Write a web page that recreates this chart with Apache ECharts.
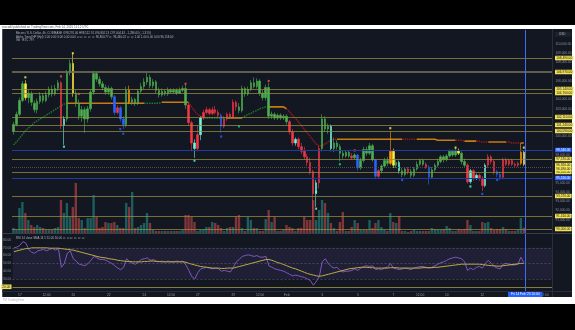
<!DOCTYPE html>
<html><head><meta charset="utf-8">
<script src="https://cdn.jsdelivr.net/npm/echarts@6/dist/echarts.min.js"></script>
<style>
html,body{margin:0;padding:0;background:#000;width:575px;height:330px;overflow:hidden;}
#card{position:absolute;left:0;top:25px;width:575px;height:279px;background:#fff;}
#panel{position:absolute;left:2px;top:29px;width:570px;height:268px;background:#131722;box-shadow:inset 1px 0 0 #4a4e59;}
#c{position:absolute;left:0;top:0;width:575px;height:330px;}
</style></head>
<body><div id="card"></div><div id="panel"></div><div id="c"></div>
<script>
// ---- time slots (4h bars) ----
const START_UTC = Date.UTC(2025, 0, 16, 16);
const BAR_HOURS = 4;
const N_SLOTS = 182;            // 173 bars + empty right margin
const CURSOR_POS = 173;         // Fri 14 Feb '25 10:00 (between bars)
const TICK_TIMES = ['2025-01-17T00:00','2025-01-18T12:00','2025-01-20T00:00','2025-01-22T00:00','2025-01-24T00:00','2025-01-25T12:00','2025-01-27T00:00','2025-01-29T00:00','2025-01-30T12:00','2025-02-01T00:00','2025-02-03T00:00','2025-02-05T00:00','2025-02-07T00:00','2025-02-08T12:00','2025-02-10T00:00','2025-02-12T00:00','2025-02-15T12:00'];
const TICK_TEXT = ['17','12:00','20','22','24','12:00','27','29','12:00','Feb','3','5','7','12:00','10','12','12:00'];

// ---- candles [open, close, low, high] in thousand USD ----
const CANDLES = [
[100.6,101.3,100.2,101.6],[101.3,102.4,101.1,102.7],
[102.4,103.9,102.2,104.2],[103.9,105.7,103.7,106.0],[105.7,104.2,103.9,106.1],[104.2,104.7,103.6,105.0],[104.6,103.7,103.3,104.9],[103.6,102.9,102.6,103.9],
[102.9,103.8,102.5,104.1],[103.8,104.4,103.5,104.8],[104.4,103.9,103.6,104.7],[103.9,104.5,103.7,104.9],[104.5,105.1,104.2,105.4],[105.1,104.6,104.3,105.5],
[104.6,105.2,104.4,105.6],[105.2,105.8,104.9,106.1],[105.8,101.2,100.8,106.0],[101.2,101.9,99.1,102.2],[101.9,106.9,101.6,107.2],[106.9,107.9,106.6,108.3],
[107.9,104.7,104.3,109.0],[104.7,103.6,103.2,105.0],[103.6,102.2,101.8,104.0],[102.2,102.9,101.6,103.3],[102.9,101.9,100.4,103.2],[101.9,103.0,101.5,103.3],
[103.0,104.8,102.7,105.1],[104.8,106.8,104.5,107.1],[106.8,106.2,105.9,107.0],[106.2,105.7,105.4,106.5],[105.7,105.3,105.0,106.0],[105.3,104.8,104.5,105.6],
[104.8,105.2,104.5,105.5],[105.2,104.3,104.0,105.4],[104.3,102.6,102.3,104.5],[102.6,103.1,102.4,103.4],[103.1,101.9,101.6,103.3],[101.9,101.3,100.8,102.2],
[101.3,105.0,101.0,105.4],[105.0,103.7,103.5,105.5],[103.7,104.0,103.4,104.3],[104.0,103.6,103.3,104.2],[103.6,104.9,103.4,105.1],[104.9,105.4,104.7,105.8],
[105.4,105.9,105.1,106.3],[105.9,106.4,105.6,106.9],[106.4,105.5,105.2,106.7],[105.5,105.9,105.2,106.2],[105.9,105.0,104.7,106.1],[105.0,104.5,104.2,105.3],
[104.5,104.9,104.3,105.2],[104.9,104.6,104.4,105.1],[104.6,105.0,104.4,105.3],[105.0,104.8,104.6,105.2],[104.8,105.0,104.6,105.2],[105.0,104.7,104.5,105.2],
[104.7,105.0,104.6,105.3],[105.0,105.2,104.8,105.5],[105.2,103.4,103.0,105.6],[103.4,101.5,101.2,103.7],[101.5,99.3,98.4,101.7],[99.3,98.7,97.7,99.7],
[98.7,100.2,98.4,101.2],[100.2,102.0,99.6,102.2],[102.0,102.6,101.8,102.9],[102.6,102.9,102.4,103.2],[102.9,102.5,102.3,103.1],[102.5,102.9,102.3,103.2],
[102.9,102.6,102.4,103.3],[102.6,102.3,102.0,102.9],[102.3,101.1,100.4,102.5],[101.1,101.9,100.9,102.2],[101.9,102.4,101.7,102.6],[102.4,102.1,101.9,102.6],
[102.1,103.7,101.9,104.0],[103.7,103.2,102.8,103.9],[103.2,102.8,102.5,103.6],[102.8,105.2,102.6,105.5],[105.2,104.6,104.3,105.4],[104.6,105.1,104.4,105.4],
[105.1,105.8,104.9,106.1],[105.8,105.4,105.2,106.4],[105.4,106.0,105.2,106.3],[106.0,104.7,104.4,106.2],[104.7,104.2,103.9,105.0],[104.2,105.3,103.9,105.6],
[105.3,102.2,101.9,105.8],[102.2,102.4,101.9,102.7],[102.4,102.0,101.8,102.6],[102.0,102.3,101.8,102.5],[102.3,102.0,101.8,102.5],[102.0,102.2,101.8,102.4],
[102.2,101.6,101.3,102.4],[101.6,100.5,100.2,101.8],[100.5,99.3,99.0,100.8],[99.3,99.7,99.0,99.9],[99.7,98.9,98.6,99.9],[98.9,98.4,98.1,99.3],
[98.4,97.8,97.5,98.9],[97.8,97.2,96.8,98.1],[97.2,96.2,95.9,97.7],[96.2,93.8,91.2,96.4],[93.8,95.0,92.4,95.3],[95.0,98.7,94.4,99.0],
[98.7,101.9,98.4,102.4],[101.9,100.8,100.5,102.2],[100.8,101.1,100.3,101.4],[101.1,98.7,98.4,101.3],[98.7,99.3,98.3,99.9],[99.3,98.9,98.6,99.6],
[98.9,98.2,97.3,99.2],[98.2,97.9,97.6,98.5],[97.9,98.3,97.7,98.5],[98.3,97.9,97.7,98.5],[97.9,97.7,97.5,98.2],[97.7,98.0,97.5,98.2],
[98.0,96.6,96.3,98.1],[96.6,97.4,96.4,97.7],[97.4,98.6,97.2,98.9],[98.6,98.2,97.9,98.9],[98.2,99.0,98.0,99.3],[99.0,97.5,97.3,99.2],
[97.5,95.7,95.4,97.6],[95.7,96.3,95.5,96.5],[96.3,96.8,96.0,97.0],[96.8,97.4,96.6,97.7],[97.4,97.1,96.8,97.8],[97.1,98.4,96.9,100.6],
[98.4,96.9,96.6,98.7],[96.9,97.2,96.6,97.5],[97.2,96.3,96.0,97.4],[96.3,95.9,95.6,96.6],[95.9,96.5,95.7,96.7],[96.5,96.2,95.9,96.7],
[96.2,95.8,95.5,96.5],[95.8,96.5,95.6,96.7],[96.5,97.0,96.3,97.3],[97.0,97.4,96.8,97.6],[97.4,97.0,96.8,97.6],[97.0,96.7,96.5,97.2],
[96.7,95.6,94.8,96.9],[95.6,96.4,95.4,96.7],[96.4,96.9,96.2,97.1],[96.9,97.3,96.7,97.6],[97.3,97.8,97.1,98.0],[97.8,97.5,97.2,98.0],
[97.5,97.9,97.3,98.1],[97.9,98.4,97.7,98.6],[98.4,98.0,97.8,98.6],[98.0,98.5,97.8,98.8],[98.5,98.2,98.0,98.7],[98.2,97.3,97.0,98.4],
[97.3,96.9,96.6,97.6],[96.9,95.1,94.9,97.1],[95.1,96.3,94.9,96.5],[96.3,95.5,95.2,96.5],[95.5,95.8,95.3,96.0],[95.8,95.5,95.2,96.0],
[95.5,94.7,94.1,95.7],[94.7,96.9,94.5,97.1],[96.9,97.8,96.6,98.1],[97.8,97.3,97.0,98.0],[97.3,96.2,95.9,97.5],[96.2,95.9,95.6,96.4],
[95.9,95.6,95.3,96.2],[95.6,97.5,95.4,97.7],[97.5,97.0,96.8,97.7],[97.0,97.4,96.8,97.6],[97.4,97.0,96.8,97.6],[97.0,96.9,96.7,97.2],
[96.9,97.1,96.7,97.3],[97.1,98.3,96.9,99.3],[98.3,97.0,96.8,98.5]
];
// candle colour runs (trend colouring): g green, r red, y yellow, b blue, c cyan, o orange
const CANDLE_COLOR_RUNS = [['g',4],['y',1],['g',11],['r',1],['c',1],['g',2],['y',1],['g',13],['b',1],['r',1],['b',2],['g',1],['o',1],['g',19],['r',2],['c',1],['r',1],['c',1],['r',6],['b',1],['r',5],['g',17],['r',2],['c',1],['r',6],['c',1],['r',1],['g',3],['c',1],['g',6],['r',1],['g',1],['b',1],['g',5],['b',1],['r',1],['g',3],['o',1],['y',1],['g',1],['c',1],['g',2],['r',1],['g',5],['r',1],['b',1],['g',9],['y',1],['g',2],['r',1],['c',1],['r',1],['c',1],['r',2],['c',1],['r',3],['b',2],['r',6],['o',1],['y',1]];

// ---- volume (BTC) ----
const VOLUME = [
750,450,
3750,4650,3000,1950,1200,900,
1200,900,750,450,450,450,
750,900,4950,3000,4500,2400,
3900,7500,2250,1950,750,2250,
2250,5700,2400,750,900,1650,
1500,1500,1650,1200,750,750,
4500,3900,6150,750,900,1200,
1500,3000,1500,450,300,300,
300,300,300,300,300,300,
300,450,2700,2700,2400,1650,
300,450,450,900,900,1650,
1500,1200,750,300,750,900,
900,2400,2700,750,300,2400,
1950,750,750,300,300,2100,
3450,1650,2400,300,300,450,
1200,900,750,300,750,750,
2400,1950,1950,4950,1950,3450,
4950,4500,3000,1500,750,300,
1650,3150,300,300,900,1950,
1500,450,450,450,1950,750,
1500,1950,900,450,300,3000,
1650,1500,2550,300,300,150,
300,450,300,300,300,300,
300,750,600,450,450,600,
1050,750,300,300,600,450,
600,1950,1200,300,300,300,
1650,1500,1650,750,450,600,
600,900,600,300,300,300,
450,2250,797
];

// ---- Alpha Trend line (thousand USD) and its colour runs ----
const ALPHA = [
99.1,99.4,
99.8,100.2,100.6,100.9,101.2,101.5,
101.7,101.9,102.1,102.3,102.5,102.7,
102.9,103.1,103.3,103.5,103.6,103.6,
103.6,103.6,103.6,103.6,103.6,103.6,
103.6,103.6,103.6,103.6,103.6,103.6,
103.6,103.6,103.6,103.6,103.6,103.6,
103.6,103.6,103.6,103.6,103.6,103.6,
103.6,103.6,103.6,103.6,103.6,103.6,
103.7,103.7,103.7,103.7,103.7,103.7,
103.7,103.7,103.7,103.7,103.2,102.8,
102.4,102.2,102.0,102.0,102.0,102.0,
102.0,102.0,102.0,102.0,102.0,102.0,
102.0,102.0,102.0,102.0,102.2,102.4,
102.5,102.7,102.8,103.0,103.1,103.2,
103.2,103.2,103.2,103.2,103.2,103.2,
103.0,102.7,102.3,102.0,101.6,101.2,
100.8,100.4,100.0,99.6,99.2,99.0,
99.0,99.2,99.4,99.6,99.7,99.7,
99.7,99.7,99.7,99.7,99.7,99.7,
99.7,99.7,99.7,99.7,99.7,99.7,
99.7,99.7,99.7,99.7,99.7,99.7,
99.7,99.7,99.7,99.7,99.7,99.7,
99.7,99.7,99.7,99.7,99.7,99.7,
99.7,99.7,99.7,99.6,99.6,99.6,
99.6,99.6,99.6,99.6,99.6,99.6,
99.5,99.5,99.5,99.5,99.5,99.5,
99.4,99.4,99.4,99.4,99.4,99.4,
99.4,99.4,99.4,99.4,99.3,99.3,
99.3,99.3,99.3
];
const ALPHA_COLOR_RUNS = [['g',18],['o',26],['g',6],['o',9],['r',6],['g',7],['o',5],['g',9],['o',6],['r',17],['o',22],['r',5],['o',13],['r',3],['o',4],['r',4],['o',6],['r',5],['o',2]];

// ---- signal markers [bar index, price k, colour] ----
const MARKERS = [[4,106.4,'y'],[16,106.5,'r'],[17,98.9,'c'],[20,109.0,'y'],[22,104.6,'r'],[36,100.8,'b'],[37,100.3,'b'],[58,105.7,'r'],[61,97.4,'c'],[70,100.0,'b'],[76,101.1,'g'],[86,106.0,'r'],[102,94.0,'c'],[102,92.2,'c'],[110,97.0,'g'],[115,98.5,'r'],[127,100.9,'y'],[131,95.3,'b'],[149,98.8,'y'],[154,94.6,'c'],[158,93.8,'b'],[163,95.3,'b'],[172,98.8,'y']];

// ---- RSI(14) and its SMA ----
const RSI = [
70,71,
73,78,76,68,64,63,
66,67,68,66,68,69,
67,69,45,50,63,66,
56,53,49,48,47,50,
54,59,57,55,55,54,
52,50,47,44,42,45,
56,52,50,49,52,55,
56,57,54,55,53,52,
53,52,53,52,52,53,
52,53,48,41,33,30,
38,43,44,45,44,43,
44,43,40,41,40,39,
45,52,55,59,60,61,
60,59,60,58,58,59,
47,45,43,42,41,40,
38,36,34,35,34,33,
32,30,28,22,27,33,
52,56,50,46,44,45,
41,39,40,40,41,43,
41,44,46,47,46,47,
42,43,42,44,45,50,
44,43,42,43,44,43,
42,44,45,46,46,45,
44,45,47,49,51,52,
54,56,57,58,57,56,
52,41,44,42,45,46,
44,50,54,50,46,44,
43,49,50,49,48,48,
49,58,51
];
const RSI_MA = [
65,66,
67,68,69,69,70,70,
70,70,70,70,69.5,69.5,
69.5,69.5,69,68.5,68,67.5,
67,66,65,64,63,62,
61,60,59,58,57.5,57,
56,55.5,55,54,53.5,53,
52.5,52.5,52,52,52,52,
52.5,52.5,53,53,52.5,52.5,
52,52,52,52,52,52,
52,52,51.5,50,49,48,
47,46,45.5,45,44.5,44,
44,44,43.5,43.5,44,44,
44,45,46,47,48,49,
50,51,52,53,54,55,
55,54,52.5,51,50,48.5,
47,45.5,44,43,41.5,40,
38.5,37,36,35,34,33.5,
34,35,36,37,38,39,
40,41,42,43,43.5,44,
44.5,45,45,45,44.5,44.5,
44,44,44,44,44,44.5,
44.5,44.5,44,44,44,44,
44,44,44,44,44.5,44.5,
44.5,44.5,45,45,45.5,46,
46.5,47,47.5,48,48.5,49,
49,49,49,49,49,49,
48.5,48,47.5,47,47,46.5,
46.5,47,47.5,48,48.5,49,
49.5,50,50
];

// ---- price levels (thousand USD) ----
const LEVELS_YELLOW = [108.49,106.97,105.14,104.70,102.11,101.24,100.59,97.57,96.16,93.57,91.41,90.00];
const LEVELS_BLUE = [98.54,95.51];
const LEVEL_DOTTED = [96.70];
const TAGS_ONLY = [96.92,96.49];
const PRICE_TICKS = [110,109,108,106,104,103,100,98,95,94,93,92,91];
const RSI_TICKS = [30,40,50,60,70,80];
const RSI_BANDS = [70,50,30];
const RSI_LINE = 20;

// ================= build =================
const FONT = 'Liberation Sans';
const PAL = {g:'#4caf50', r:'#f23645', y:'#ffeb3b', b:'#2962ff', c:'#6ff5dc', o:'#ff9800'};
const MK = {g:'#00e676', r:'#ff5252', y:'#ffee58', b:'#2962ff', c:'#64ffda'};
const expand = runs => { const o=[]; runs.forEach(([c,n])=>{for(let k=0;k<n;k++)o.push(c);}); return o; };
const cc = expand(CANDLE_COLOR_RUNS);
const ac = expand(ALPHA_COLOR_RUNS);
const fmtK = v => (v*1000).toLocaleString('en-US',{minimumFractionDigits:2,maximumFractionDigits:2});

const cats = [];
for (let k=0;k<N_SLOTS;k++) cats.push(new Date(START_UTC + k*BAR_HOURS*3600e3).toISOString().slice(0,16));
const tickMap = {}; TICK_TIMES.forEach((t,k)=>tickMap[t]=TICK_TEXT[k]);

const candleData = CANDLES.map((d,i)=>{const col=PAL[cc[i]];return {value:d,itemStyle:{color:col,color0:col,borderColor:col,borderColor0:col}};});
const volData = VOLUME.map((v,i)=>({value:v,itemStyle:{color:CANDLES[i][1]>=CANDLES[i][0]?'rgba(38,166,154,0.5)':'rgba(239,83,80,0.5)'}}));
const alphaFor = code => ALPHA.map((v,i)=>(ac[i]===code || (i>0 && ac[i-1]===code)) ? v : null);

const tag = (bg, fg) => ({show:true, position:'end', distance:3, formatter:p=>fmtK(p.value), backgroundColor:bg, color:fg, fontSize:3.2, fontFamily:FONT, padding:[0.8,1.2], borderRadius:0.5});
const levelLines = [];
LEVELS_YELLOW.forEach((v,k)=>levelLines.push({yAxis:v, lineStyle:k===1?{color:'rgba(110,108,80,0.85)',width:2,type:'solid'}:{color:'rgba(150,142,62,0.75)',width:1,type:'solid'}, label:tag('#f2e35a','#111')}));
LEVELS_BLUE.forEach(v=>levelLines.push({yAxis:v, lineStyle:{color:'#1f3d9e',width:1,type:'solid'}, label:tag('#2962ff','#fff')}));
LEVEL_DOTTED.forEach(v=>levelLines.push({yAxis:v, lineStyle:{color:'#4a4d57',width:1,type:'dotted'}, label:{show:false}}));
TAGS_ONLY.forEach(v=>levelLines.push({yAxis:v, lineStyle:{color:'transparent',width:0}, label:tag('#f2e35a','#111')}));

const rsiLines = RSI_BANDS.map(v=>({yAxis:v, lineStyle:{color:'rgba(120,123,134,0.45)',width:1,type:[2,2]}, label:{show:false}}));
rsiLines.push({yAxis:RSI_LINE, lineStyle:{color:'rgba(160,150,70,0.8)',width:1,type:'solid'}, label:{show:true,position:'start',distance:1,formatter:p=>p.value.toFixed(2),backgroundColor:'#f2e35a',color:'#111',fontSize:3.2,fontFamily:FONT,padding:[0.8,1.2]}});

const txt = (x,y,text,rich,size,fill) => ({type:'text', x, y, z:100, style:{text, x:0, y:0, fill:fill||'#b2b5be', fontSize:size||3, fontFamily:FONT, verticalAlign:'middle', rich:rich||{}}});
const rich = s => ({fontSize:s, fontFamily:FONT});
const R = s => ({w:{...rich(s),color:'#b2b5be'}, r:{...rich(s),color:'#f23645'}, y:{...rich(s),color:'#ffeb3b'}, o:{...rich(s),color:'#ff9800'}, b:{...rich(s),color:'#2962ff'}, c:{...rich(s),color:'#26c6da'}, g:{...rich(s),color:'#787b86'}, gr:{...rich(s),color:'#4caf50'}, p:{...rich(s),color:'#9575cd'}});

const chart = echarts.init(document.getElementById('c'), null, {renderer:'canvas'});
chart.setOption({
  animation:false,
  backgroundColor:'transparent',
  textStyle:{fontFamily:FONT},
  grid:[
    {left:12, right:23, top:30, height:203},
    {left:12, right:23, top:234, height:57},
    {left:12, right:23, top:30, height:261}
  ],
  xAxis:[
    {type:'category', gridIndex:0, data:cats, boundaryGap:true, show:false},
    {type:'category', gridIndex:1, data:cats, boundaryGap:true,
      axisLine:{show:false}, axisTick:{show:false}, splitLine:{show:false},
      axisLabel:{interval:(i,v)=>tickMap[v]!==undefined, formatter:v=>tickMap[v]||'', fontSize:3.3, color:'#9598a1', margin:2.2, fontFamily:FONT}},
    {type:'value', gridIndex:2, min:0, max:N_SLOTS, show:false}
  ],
  yAxis:[
    {type:'value', gridIndex:0, position:'right', min:89.57, max:111.514, splitLine:{show:false},
      axisLine:{show:false}, axisTick:{show:false},
      axisLabel:{customValues:PRICE_TICKS, formatter:v=>fmtK(v), fontSize:3.2, color:'#8f929b', margin:3.5, fontFamily:FONT}},
    {type:'value', gridIndex:0, min:0, max:30450, show:false},
    {type:'value', gridIndex:1, position:'left', min:14.6, max:87.7, splitLine:{show:false},
      axisLine:{show:false}, axisTick:{show:false},
      axisLabel:{customValues:RSI_TICKS, formatter:v=>v.toFixed(2), fontSize:3.2, color:'#8f929b', margin:1.5, fontFamily:FONT}},
    {type:'value', gridIndex:2, min:0, max:1, show:false}
  ],
  series:[
    {type:'bar', name:'vol', xAxisIndex:0, yAxisIndex:1, data:volData, barWidth:'80%', z:1, silent:true},
    {type:'line', name:'levels', xAxisIndex:0, yAxisIndex:0, data:CANDLES.map(d=>d[1]), showSymbol:false, symbol:'none', lineStyle:{opacity:0}, z:1, silent:true,
      markLine:{symbol:['none','none'], silent:true, animation:false, data:levelLines}},
    {type:'line', name:'atG', xAxisIndex:0, yAxisIndex:0, data:alphaFor('g'), showSymbol:false, symbol:'none', connectNulls:false, lineStyle:{color:'#1f7a2c',width:1.4,type:[1.5,1]}, z:2, silent:true},
    {type:'line', name:'atO', xAxisIndex:0, yAxisIndex:0, data:alphaFor('o'), showSymbol:false, symbol:'none', connectNulls:false, lineStyle:{color:'#c77a10',width:1.6}, z:2, silent:true},
    {type:'line', name:'atR', xAxisIndex:0, yAxisIndex:0, data:alphaFor('r'), showSymbol:false, symbol:'none', connectNulls:false, lineStyle:{color:'#8e1b1b',width:1.5,type:[1.5,0.8]}, z:2, silent:true},
    {type:'candlestick', xAxisIndex:0, yAxisIndex:0, data:candleData, barWidth:2, z:3, silent:true, itemStyle:{borderWidth:0.6}},
    {type:'scatter', xAxisIndex:0, yAxisIndex:0, data:MARKERS.map(([i,p,c])=>({value:[i,p],itemStyle:{color:MK[c]}})), symbol:'rect', symbolSize:[2,2.2], z:4, silent:true},
    {type:'line', name:'rsi', xAxisIndex:1, yAxisIndex:2, data:RSI, showSymbol:false, symbol:'none', lineStyle:{color:'#7e57c2',width:1}, z:3, silent:true,
      markArea:{silent:true, itemStyle:{color:'rgba(126,87,194,0.12)'}, data:[[{yAxis:30},{yAxis:70}]]},
      markLine:{symbol:['none','none'], silent:true, data:rsiLines}},
    {type:'line', name:'rsiMA', xAxisIndex:1, yAxisIndex:2, data:RSI_MA, showSymbol:false, symbol:'none', lineStyle:{color:'#bfae45',width:1}, z:3, silent:true},
    {type:'line', name:'cursor', xAxisIndex:2, yAxisIndex:3, data:[[0,0.5],[N_SLOTS,0.5]], showSymbol:false, symbol:'none', lineStyle:{opacity:0}, z:5, silent:true,
      markLine:{symbol:['none','none'], silent:true, data:[{xAxis:CURSOR_POS}], lineStyle:{color:'#3d6bff',width:1,type:'solid'},
        label:{show:true, position:'start', distance:1, formatter:"Fri 14 Feb '25 10:00", backgroundColor:'#2962ff', color:'#fff', fontSize:3.2, fontFamily:FONT, padding:[1,3]}}}
  ],
  graphic:[
    {type:'line', z:50, shape:{x1:2, y1:233.5, x2:572, y2:233.5}, style:{stroke:'#3a3e4a', lineWidth:1}},
    {type:'line', z:50, shape:{x1:2, y1:291.5, x2:572, y2:291.5}, style:{stroke:'#2a2e39', lineWidth:1}},
    {type:'line', z:50, shape:{x1:552.5, y1:29, x2:552.5, y2:297}, style:{stroke:'#2a2e39', lineWidth:1}},
    {type:'rect', z:60, shape:{x:555, y:32, width:16, height:4.6}, style:{fill:'#1e222d'}},
    txt(559, 34.4, 'USD', null, 3, '#b2b5be'),
    txt(2, 27.3, 'crocodil published on TradingView.com, Feb 14, 2025 11:12 UTC', null, 3, '#555'),
    txt(16, 33, '{w|Bitcoin / U.S. Dollar, 4h, COINBASE} {r|O98,291.06 H98,512.74 L96,802.13 C97,004.43 \u22121,286.63 (\u22121.31%)}', R(2.9)),
    txt(16, 36.8, '{w|Alpha Trend HP (Hpl)} {y|1.00} {o|0.00} {b|3.00} {c|0.00} {y|0.00} {g|\u2205 \u2205 \u2205 \u2205 \u2205} {w|96,800.77} {g|\u2205} {w|96,460.02} {g|\u2205 \u2205} {gr|1.00} {gr|1.00} {gr|0.00} {r|0.00} {r|96,158.00}', R(2.9)),
    txt(16, 40.5, '{w|Vol \u00b7 BTC} {r|797}', R(2.9)),
    txt(16, 238, '{w|RSI 14 close SMA 14 5} {p|51.00} {y|50.00} {g|\u2205 \u2205 \u2205 \u2205 \u2205 \u2205}', R(2.9)),
    txt(3, 300.6, '{k|TV} {w|TradingView}', {k:{fontSize:3,fontWeight:'bold',color:'#131722',fontFamily:FONT}, w:{fontSize:3,color:'#555',fontFamily:FONT}})
  ]
});
</script>
</body></html>
